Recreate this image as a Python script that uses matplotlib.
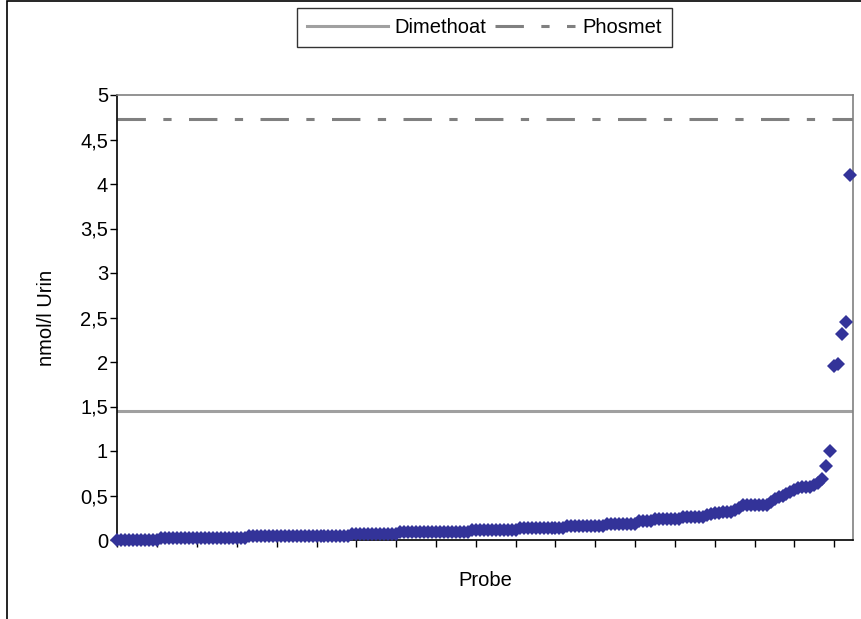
import matplotlib.pyplot as plt
import numpy as np
from matplotlib.patches import Rectangle

plt.rcParams['font.family'] = ['Liberation Sans', 'DejaVu Sans']
plt.rcParams['font.size'] = 14.5

# sortierte Messwerte (nmol/l Urin), flacher Teil als Stufen + Ausreisser am Ende
levels = [0.0, 0.025, 0.045, 0.07, 0.09, 0.11, 0.14, 0.16, 0.185, 0.21, 0.235, 0.26]
counts = [11, 22, 26, 12, 18, 12, 12, 10, 8, 4, 7, 6]
tail = [0.28, 0.29, 0.30, 0.30, 0.31, 0.32, 0.32, 0.34, 0.36,
        0.39, 0.39, 0.39, 0.39, 0.39, 0.39, 0.39,
        0.43, 0.46, 0.48, 0.50, 0.52, 0.54, 0.56, 0.58, 0.59, 0.59,
        0.60, 0.62, 0.64, 0.68,
        0.83, 1.00, 1.96, 1.98, 2.32, 2.45, 4.10]

dimethoat = 1.45
phosmet = 4.73

werte = np.concatenate([np.repeat(levels, counts), tail])
proben = np.arange(len(werte))

W, H = 861, 619
fig = plt.figure(figsize=(W / 100, H / 100), dpi=100)

# Rahmen um das Diagramm
fig.patches.append(Rectangle((7 / W, -0.1), 1.2, 1 - 1 / H + 0.1, transform=fig.transFigure,
                             fill=False, edgecolor='black', linewidth=1.2))

ax = fig.add_axes([117 / W, 1 - 540 / H, (853 - 117) / W, (540 - 95) / H])

ax.axhline(dimethoat, color='#a0a0a0', linewidth=2.2, label='Dimethoat', zorder=2)
ax.axhline(phosmet, color='#808080', linewidth=2.2, linestyle=(0, (9.3, 5.7, 2.7, 5.7)),
           label='Phosmet', zorder=2)
ax.plot(proben, werte, linestyle='none', marker='D', markersize=7.5, color='#333399',
        markeredgewidth=0, clip_on=False, zorder=3)

ax.set_ylim(0, 5)
ax.set_xlim(-0.1, 184.7)
yt = np.arange(0, 5.01, 0.5)
ax.set_yticks(yt)
ax.set_yticklabels([('%g' % v).replace('.', ',') for v in yt])
ax.set_xticks(np.arange(0, 181, 10))
ax.set_xticklabels([])
ax.tick_params(axis='both', direction='out', length=5, width=1, color='black')
ax.tick_params(axis='y', pad=1.5)

for s in ['top', 'right']:
    ax.spines[s].set_color('#808080')
    ax.spines[s].set_linewidth(1.2)
for s in ['left', 'bottom']:
    ax.spines[s].set_color('black')
    ax.spines[s].set_linewidth(1.2)

# Achsentitel
fig.text(47 / W, 1 - 318 / H, 'nmol/l Urin', rotation=90, ha='center', va='center')
fig.text(485 / W, 1 - 581 / H, 'Probe', ha='center', va='center')

leg = fig.legend(loc='upper center', bbox_to_anchor=(484.5 / W, 1 - 8 / H), ncol=2,
                 handlelength=4.0, handletextpad=0.35, columnspacing=0.4,
                 borderpad=0.5, borderaxespad=0, frameon=True, fancybox=False)
leg.get_frame().set_edgecolor('black')
leg.get_frame().set_linewidth(1.0)

fig.savefig('out.png', dpi=100)
